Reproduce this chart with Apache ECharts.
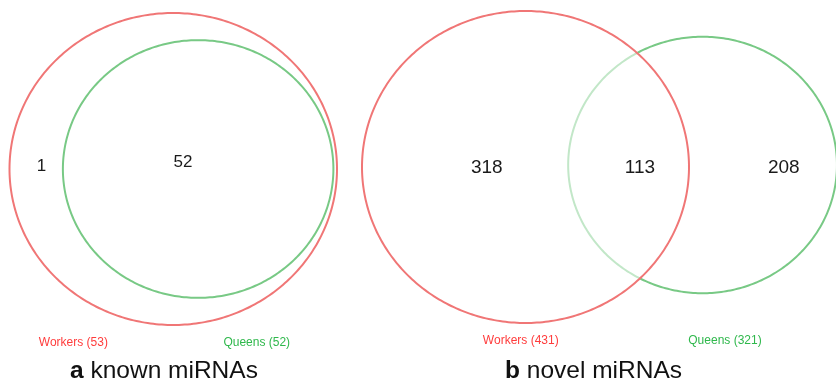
<!DOCTYPE html>
<html>
<head>
<meta charset="utf-8">
<script src="https://cdn.jsdelivr.net/npm/echarts@6/dist/echarts.min.js"></script>
<style>
  html, body { margin: 0; padding: 0; background: #ffffff; }
  #chart { width: 836px; height: 384px; }
</style>
</head>
<body>
<div id="chart"></div>
<script>
// Panel captions
const panelLetters = ['a', 'b'];
const panelNames = ['known miRNAs', 'novel miRNAs'];
// Groups and their totals per panel
const groupNames = ['Workers', 'Queens'];
const groupTotals = [[53, 52], [431, 321]];
// Region counts per panel
const workersOnly = [1, 318];
const sharedCounts = [52, 113];
const queensOnly = [0, 208];

// Drawing layout, in unit space of each panel (Workers circle spans -1..1)
const FONT = '"Liberation Sans", Arial, Helvetica, sans-serif';
const groupLineColors = ['#f07676', '#78c985'];
const groupTextColors = ['#ff3c3c', '#2fb84c'];
const layout = [
  {
    grid: { left: 9.5, top: 13, width: 327.5, height: 312 },
    circles: [[0, 0, 1], [0.152, 0, 0.826]],
    regionPos: [[-0.805, 0.016], [0.06, 0.04], [1.2, 0]],
    labelPos: [[-0.61, -1.115], [0.51, -1.115]],
    countSize: 17,
    drawOrder: [0, 1],
    veil: 'rgba(255,255,255,0)',
    titleLeft: 70
  },
  {
    grid: { left: 362, top: 11, width: 327, height: 312 },
    circles: [[0, 0, 1], [1.083, 0.013, 0.822]],
    regionPos: [[-0.237, -0.006], [0.7, -0.003], [1.58, -0.003]],
    labelPos: [[-0.029, -1.115], [1.22, -1.115]],
    countSize: 19,
    drawOrder: [1, 0],
    veil: 'rgba(255,255,255,0.55)',
    titleLeft: 505
  }
];

const grids = [], xAxes = [], yAxes = [], series = [], titles = [];

layout.forEach(function (L, p) {
  grids.push(Object.assign({ containLabel: false }, L.grid));
  xAxes.push({ type: 'value', gridIndex: p, min: -1, max: 1, show: false });
  yAxes.push({ type: 'value', gridIndex: p, min: -1, max: 1, show: false });

  // circles: [cx, cy, r, groupIndex]
  const circleData = L.drawOrder.map(function (g) {
    return [L.circles[g][0], L.circles[g][1], L.circles[g][2], g];
  });
  series.push({
    type: 'custom',
    xAxisIndex: p,
    yAxisIndex: p,
    clip: false,
    silent: true,
    data: circleData,
    renderItem: function (params, api) {
      const c = api.coord([api.value(0), api.value(1)]);
      const r = api.value(2);
      const g = api.value(3);
      const rx = api.size([r, 0])[0];
      const ry = api.size([0, r])[1];
      const pts = [];
      for (let i = 0; i < 360; i++) {
        const t = i / 360 * Math.PI * 2;
        pts.push([c[0] + rx * Math.cos(t), c[1] + ry * Math.sin(t)]);
      }
      return {
        type: 'polygon',
        shape: { points: pts },
        style: {
          fill: g === 0 ? L.veil : 'rgba(255,255,255,0)',
          stroke: groupLineColors[g],
          lineWidth: 2
        }
      };
    }
  });

  // region counts: [x, y, count]
  const counts = [workersOnly[p], sharedCounts[p], queensOnly[p]];
  const countData = [];
  counts.forEach(function (v, i) {
    if (v > 0) countData.push([L.regionPos[i][0], L.regionPos[i][1], v]);
  });
  series.push({
    type: 'custom',
    xAxisIndex: p,
    yAxisIndex: p,
    clip: false,
    silent: true,
    data: countData,
    renderItem: function (params, api) {
      const c = api.coord([api.value(0), api.value(1)]);
      return {
        type: 'text',
        x: c[0],
        y: c[1],
        style: {
          text: String(api.value(2)),
          fill: '#1a1a1a',
          font: L.countSize + 'px ' + FONT,
          align: 'center',
          verticalAlign: 'middle'
        }
      };
    }
  });

  // group labels: [x, y, groupIndex, total]
  const labelData = groupNames.map(function (n, g) {
    return [L.labelPos[g][0], L.labelPos[g][1], g, groupTotals[p][g]];
  });
  series.push({
    type: 'custom',
    xAxisIndex: p,
    yAxisIndex: p,
    clip: false,
    silent: true,
    data: labelData,
    renderItem: function (params, api) {
      const c = api.coord([api.value(0), api.value(1)]);
      const g = api.value(2);
      return {
        type: 'text',
        x: c[0],
        y: c[1],
        style: {
          text: groupNames[g] + ' (' + api.value(3) + ')',
          fill: groupTextColors[g],
          font: '12px ' + FONT,
          align: 'center',
          verticalAlign: 'middle'
        }
      };
    }
  });

  titles.push({
    text: '{l|' + panelLetters[p] + '} ' + panelNames[p],
    left: L.titleLeft,
    top: 359,
    padding: 0,
    textStyle: {
      fontFamily: FONT,
      fontSize: 24.5,
      fontWeight: 'normal',
      color: '#111111',
      rich: {
        l: { fontFamily: FONT, fontSize: 24.5, fontWeight: 'bold', color: '#111111' }
      }
    }
  });
});

const chart = echarts.init(document.getElementById('chart'), null, { renderer: 'canvas' });
chart.setOption({
  backgroundColor: '#ffffff',
  animation: false,
  title: titles,
  grid: grids,
  xAxis: xAxes,
  yAxis: yAxes,
  series: series
});
</script>
</body>
</html>
